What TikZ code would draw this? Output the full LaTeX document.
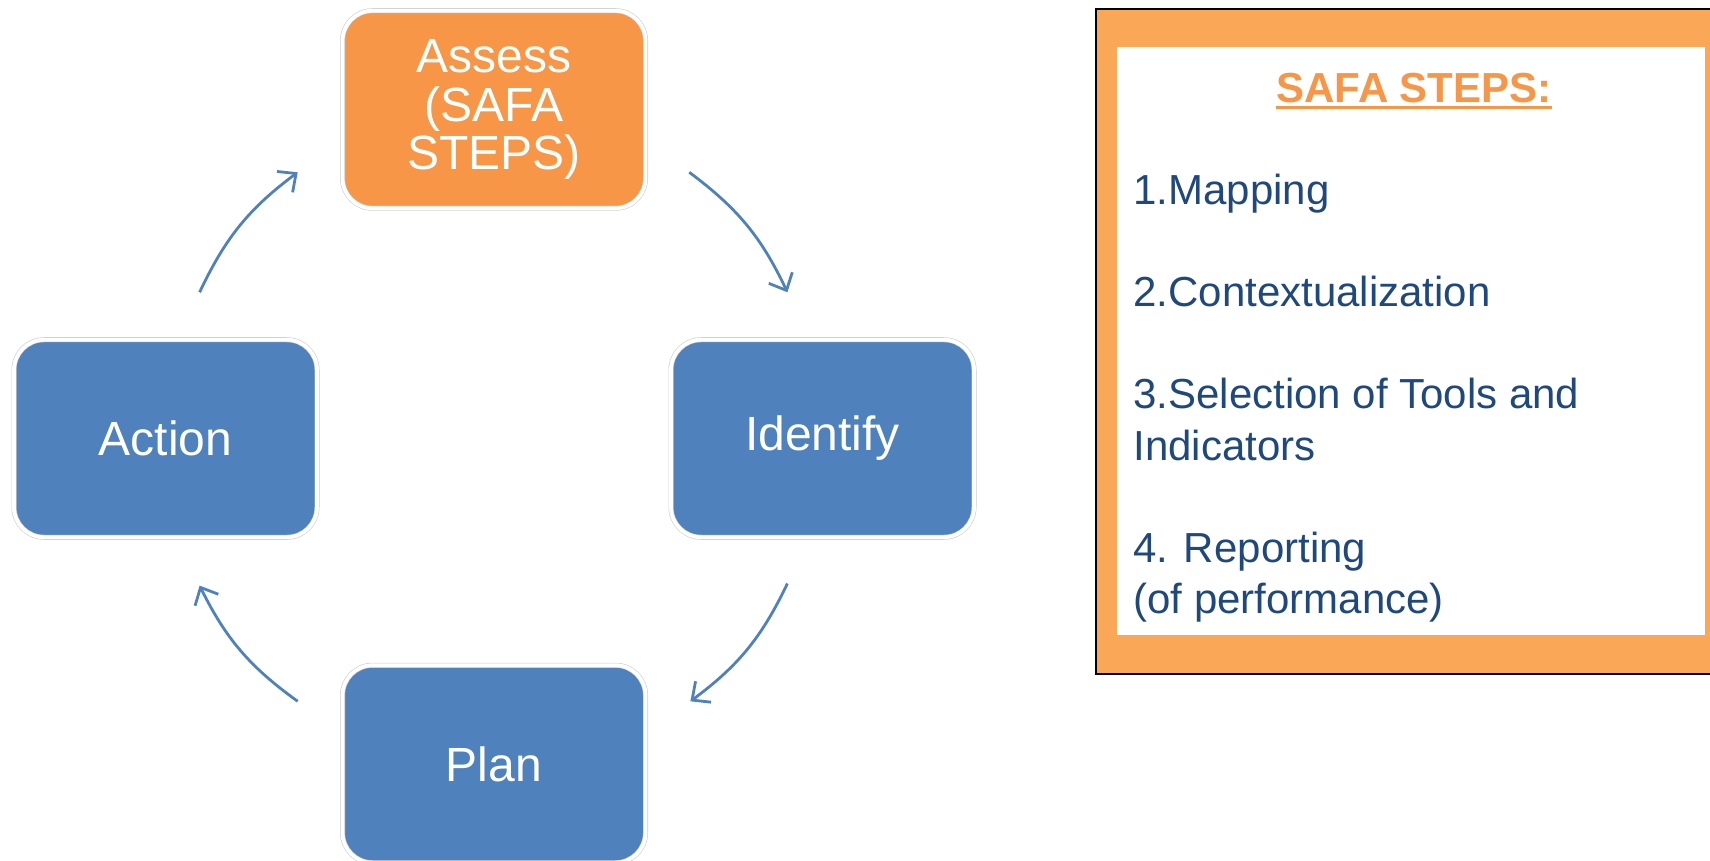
\documentclass[tikz,border=0pt]{standalone}
\usepackage{fontspec}
\setmainfont{Liberation Sans}
\usetikzlibrary{arrows.meta,calc}

\definecolor{boxblue}{RGB}{79,129,189}
\definecolor{boxorange}{RGB}{247,150,70}
\definecolor{panelorange}{RGB}{250,168,88}
\definecolor{itemblue}{RGB}{31,73,125}

\tikzset{
  cyclebox/.style={rectangle, rounded corners=15pt, minimum width=151.5pt, minimum height=98.75pt,
    draw=black!20, line width=0.3pt, double=white, double distance=1.9pt,
    text=white, align=center, font=\fontsize{24}{24.25}\selectfont},
  cyclearrow/.style={draw=boxblue, line width=1.4pt, -{Straight Barb[length=7pt,width=13pt]}, bend right=14},
  steptext/.style={anchor=base west, inner sep=0pt, text=itemblue, font=\fontsize{21}{25}\selectfont},
}

\begin{document}
\begin{tikzpicture}[x=0.5pt,y=0.5pt,yscale=-1]
\useasboundingbox (0,0) rectangle (1710,861);
\clip (0,0) rectangle (1710,861);

%Shape: Rounded Rect (cycle boxes)
\node[cyclebox, fill=boxorange] (assess) at (494,109.5) {Assess\\(SAFA\\STEPS)};
\node[cyclebox, fill=boxblue] (identify) at (822.5,438.5) {Identify};
\node[cyclebox, fill=boxblue] (plan) at (494,764) {Plan};
\node[cyclebox, fill=boxblue] (action) at (165.5,438.5) {Action};

%Arrow ends, on a circle round the cycle
\coordinate (act-out) at (199.6,292.3);
\coordinate (ass-in) at (297.7,172.3);
\coordinate (ass-out) at (689.3,172.3);
\coordinate (ide-in) at (787.4,292.3);
\coordinate (ide-out) at (787.4,583.5);
\coordinate (pla-in) at (690.4,701.3);
\coordinate (pla-out) at (297.7,701.3);
\coordinate (act-in) at (199.6,585.6);

%Curve Lines
\draw[cyclearrow] (act-out) to (ass-in);
\draw[cyclearrow] (ass-out) to (ide-in);
\draw[cyclearrow] (ide-out) to (pla-in);
\draw[cyclearrow] (pla-out) to (act-in);

%Shape: Rectangle (steps panel)
\draw[fill=panelorange, draw=black, line width=1.3pt] (1096,9) rectangle (1740,674);
\fill[white] (1117,47) rectangle (1705,635);

% Text Node
\node[anchor=base, inner sep=0pt, text=boxorange, font=\bfseries\fontsize{21}{25}\selectfont] (head) at (1414,103) {SAFA STEPS:};
\draw[boxorange, line width=1.5pt] ($(head.base west)+(0,5)$) -- ($(head.base east)+(0,5)$);

% Text Node
\node[steptext] (step1) at (1133,205) {1.Mapping};
\node[steptext] (step2) at (1133,307) {2.Contextualization};
\node[steptext] (step3) at (1133,409) {3.Selection of Tools and};
\node[steptext] (step3b) at (1133,460) {Indicators};
\node[steptext] (step4) at (1133,562) {4. Reporting};
\node[steptext] (step4b) at (1133,613) {(of performance)};

\end{tikzpicture}
\end{document}
